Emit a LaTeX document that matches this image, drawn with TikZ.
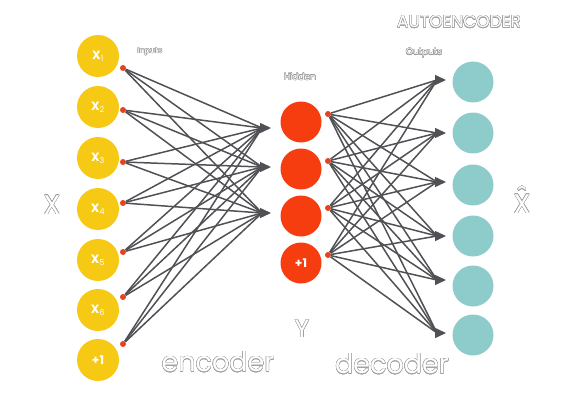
\documentclass[tikz,border=0pt]{standalone}
\usepackage{fontspec}
\setsansfont{Poppins}
\usepackage{contour}
\usetikzlibrary{arrows.meta}
\definecolor{inyellow}{HTML}{F6C915}
\definecolor{hidred}{HTML}{F63D10}
\definecolor{outteal}{HTML}{8ECBCB}
\definecolor{dotred}{HTML}{E5431F}
\definecolor{edgegray}{HTML}{505155}
\definecolor{hollowgray}{HTML}{A0A0A0}
\contourlength{0.35pt}
\contournumber{24}
\newcommand{\hollow}[1]{\contour{hollowgray}{\color{white}#1}}
\newcommand{\xsub}[1]{X\textsubscript{\mdseries #1}}
\newcommand{\xhat}{\ooalign{X\cr\hidewidth\raisebox{0.24em}{\char"02C6}\hidewidth\cr}}

\begin{document}
\begin{tikzpicture}[x=1pt,y=-1pt,
	innode/.style={circle,fill=inyellow,minimum size=42pt,inner sep=0pt,text=white,font=\sffamily\bfseries\large},
	hidnode/.style={circle,fill=hidred,minimum size=41pt,inner sep=0pt,text=white,font=\sffamily\bfseries\large},
	outnode/.style={circle,fill=outteal,minimum size=41pt,inner sep=0pt},
	dot/.style={circle,fill=dotred,minimum size=6pt,inner sep=0pt},
	edge/.style={draw=edgegray,line width=1.5pt},
	arrowtip/.style={edgegray,line width=1.5pt,-{Triangle[length=11pt,width=10pt]}},
	label/.style={font=\sffamily}]
	%%%%% START %%%%%
	
	\useasboundingbox (0,0) rectangle (572,401);
	
	% inputs
	\node[innode] (x1) at (98,56) {\xsub{1}};
	\node[innode] (x2) at (98,107) {\xsub{2}};
	\node[innode] (x3) at (98,158) {\xsub{3}};
	\node[innode] (x4) at (98,209) {\xsub{4}};
	\node[innode] (x5) at (98,260) {\xsub{5}};
	\node[innode] (x6) at (98,310) {\xsub{6}};
	\node[innode] (x7) at (98,360) {+1};
	
	\node[dot] (d1) at (123,68) {};
	\node[dot] (d2) at (123,110) {};
	\node[dot] (d3) at (123,162) {};
	\node[dot] (d4) at (123,203) {};
	\node[dot] (d5) at (123,252) {};
	\node[dot] (d6) at (123,297) {};
	\node[dot] (d7) at (123,344) {};
	
	% encoder arrows
	\coordinate (e1) at (271,128);
	\coordinate (e2) at (271,167);
	\coordinate (e3) at (271,213);
	\coordinate (eb1) at (262,128);
	\coordinate (eb2) at (262,167);
	\coordinate (eb3) at (262,213);
	
	\foreach \i in {1,...,7}
		\foreach \j in {1,2,3}
			\draw[edge] (d\i) -- (eb\j);
	\foreach \j in {1,2,3}
		\draw[arrowtip] (eb\j) -- (e\j);
	
	% hidden
	\node[hidnode] (h1) at (301,122) {};
	\node[hidnode] (h2) at (301,169) {};
	\node[hidnode] (h3) at (301,216) {};
	\node[hidnode] (h4) at (301,263) {+1};
	
	\node[dot] (g1) at (328,114) {};
	\node[dot] (g2) at (328,161) {};
	\node[dot] (g3) at (328,208) {};
	\node[dot] (g4) at (328,255) {};
	
	% decoder arrows
	\coordinate (o1) at (446,80);
	\coordinate (o2) at (446,133);
	\coordinate (o3) at (446,182);
	\coordinate (o4) at (446,236);
	\coordinate (o5) at (446,280);
	\coordinate (o6) at (446,333);
	\coordinate (ob1) at (437,80);
	\coordinate (ob2) at (437,133);
	\coordinate (ob3) at (437,182);
	\coordinate (ob4) at (437,236);
	\coordinate (ob5) at (437,280);
	\coordinate (ob6) at (437,333);
	
	\foreach \i in {1,...,4}
		\foreach \j in {1,...,6}
			\draw[edge] (g\i) -- (ob\j);
	\foreach \j in {1,...,6}
		\draw[arrowtip] (ob\j) -- (o\j);
	
	% outputs
	\node[outnode] (y1) at (473,82) {};
	\node[outnode] (y2) at (473,133) {};
	\node[outnode] (y3) at (473,185) {};
	\node[outnode] (y4) at (473,236) {};
	\node[outnode] (y5) at (473,286) {};
	\node[outnode] (y6) at (473,335) {};
	
	% labels
	\node[label,font=\sffamily\fontsize{8}{8}\selectfont] (inlbl) at (150,52) {\hollow{Inputs}};
	\node[label,font=\sffamily\fontsize{9}{9}\selectfont] (hidlbl) at (300,77) {\hollow{Hidden}};
	\node[label,font=\sffamily\fontsize{9}{9}\selectfont] (outlbl) at (424,53) {\hollow{Outputs}};
	\node[label,font=\sffamily\fontsize{17}{17}\selectfont] (title) at (459,22) {\hollow{AUTOENCODER}};
	\node[label,font=\sffamily\fontsize{27}{27}\selectfont] (xlbl) at (52,205) {\hollow{X}};
	\node[label,font=\sffamily\fontsize{27}{27}\selectfont] (xhatlbl) at (522,204) {\hollow{\xhat}};
	\node[label,font=\sffamily\fontsize{25}{25}\selectfont] (ylbl) at (302,329) {\hollow{Y}};
	\node[label,font=\sffamily\fontsize{27}{27}\selectfont] (enclbl) at (218,362) {\hollow{encoder}};
	\node[label,font=\sffamily\fontsize{27}{27}\selectfont] (declbl) at (392,364) {\hollow{decoder}};
	
	%%%%% END %%%%%
\end{tikzpicture}
\end{document}
